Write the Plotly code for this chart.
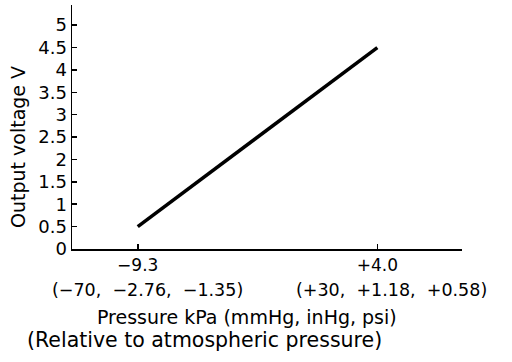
import plotly.graph_objects as go

# Data
pressure_kpa = [-9.3, 4.0]
output_voltage = [0.5, 4.5]
x_tick_vals = [-9.3, 4.0]
x_tick_text = ["\u22129.3", "+4.0"]
x_tick_sub = ["(\u221270,  \u22122.76,  \u22121.35)", "(+30,  +1.18,  +0.58)"]
x_sub_shift = [10, 14]
y_tick_vals = [0, 0.5, 1, 1.5, 2, 2.5, 3, 3.5, 4, 4.5, 5]
y_tick_text = ["0", "0.5", "1", "1.5", "2", "2.5", "3", "3.5", "4", "4.5", "5"]
x_title = "Pressure kPa (mmHg, inHg, psi)"
x_title2 = "(Relative to atmospheric pressure)"
y_title = "Output voltage V"

FONT = "DejaVu Sans"
fig = go.Figure()
fig.add_trace(go.Scatter(x=pressure_kpa, y=output_voltage, mode="lines",
                         line=dict(color="black", width=3.5), showlegend=False,
                         hoverinfo="skip"))

fig.update_layout(
    width=512, height=362,
    margin=dict(l=72, r=50, t=5, b=113),
    paper_bgcolor="white", plot_bgcolor="white",
    font=dict(family=FONT, size=18, color="black"),
    xaxis=dict(range=[-12.95, 8.7], showgrid=False, zeroline=False,
               showline=True, linecolor="black", linewidth=1.5,
               ticks="inside", ticklen=5, tickwidth=1.5, tickcolor="black",
               tickvals=x_tick_vals, ticktext=x_tick_text,
               tickfont=dict(size=17)),
    yaxis=dict(range=[0, 5.45], showgrid=False, zeroline=False,
               showline=True, linecolor="black", linewidth=1.5,
               ticks="inside", ticklen=5, tickwidth=1.5, tickcolor="black",
               tickvals=y_tick_vals, ticktext=y_tick_text,
               tickfont=dict(size=18)),
)

for xv, txt, sh in zip(x_tick_vals, x_tick_sub, x_sub_shift):
    fig.add_annotation(x=xv, xref="x", y=0, yref="paper", text=txt,
                       showarrow=False, xanchor="center", yanchor="middle",
                       xshift=sh, yshift=-40.5, font=dict(size=17.5))

fig.add_annotation(x=0, xref="paper", y=0, yref="paper", text=x_title,
                   showarrow=False, xanchor="center", yanchor="middle",
                   xshift=175, yshift=-68, font=dict(size=19))
fig.add_annotation(x=0, xref="paper", y=0, yref="paper", text=x_title2,
                   showarrow=False, xanchor="center", yanchor="middle",
                   xshift=132, yshift=-91, font=dict(size=20.5))
fig.add_annotation(x=0, xref="paper", y=0, yref="paper", text=y_title,
                   showarrow=False, xanchor="center", yanchor="middle",
                   textangle=-90, xshift=-54.5, yshift=101.5, font=dict(size=19))

fig.write_html("out.html", config={"displayModeBar": False, "staticPlot": True},
               post_script="document.body.style.margin='0';")
